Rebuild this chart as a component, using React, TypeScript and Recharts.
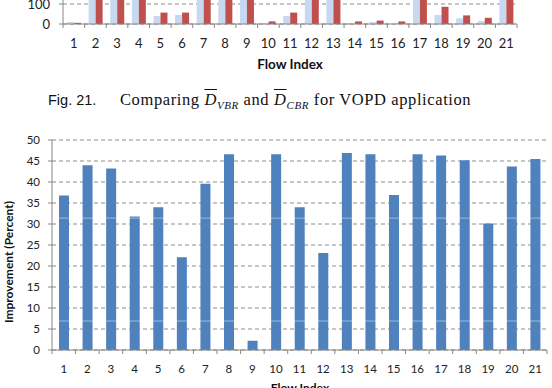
import { BarChart, Bar, XAxis, YAxis, CartesianGrid, ReferenceLine, Label } from "recharts"

const flows = ["1", "2", "3", "4", "5", "6", "7", "8", "9", "10", "11", "12", "13", "14", "15", "16", "17", "18", "19", "20", "21"]

// upper (cropped) figure: D_VBR vs D_CBR, tall bars run off the top of the page
const dVbr = [10, 240, 235, 245, 40, 45, 250, 245, 240, 5, 40, 250, 245, 5, 10, 5, 250, 45, 28, 15, 250]
const dCbr = [6, 250, 245, 255, 57, 57, 260, 255, 250, 13, 57, 260, 255, 13, 17, 13, 260, 86, 43, 31, 260]
const dTicks = [0, 100]

// lower figure: improvement in percent
const improvement = [36.8, 44, 43.2, 31.8, 34, 22.1, 39.6, 46.6, 2.2, 46.6, 34, 23.1, 46.9, 46.6, 36.9, 46.6, 46.3, 45.2, 30.1, 43.7, 45.5]
const improvementTicks = [0, 5, 10, 15, 20, 25, 30, 35, 40, 45, 50]
// faint horizontal scan lines visible across the bars in the scan
const scanLines = [31.4, 6.9]

const FONT = "Lato, 'Liberation Sans', sans-serif"
const AXIS = "#868686"
const GRID = "#8c8c8c"

function boundaryTick(band: number, count: number, drop: number, fontSize: number) {
  return (props: any) => {
    const { x, y, payload, index } = props
    return (
      <g>
        <line x1={x - band / 2} x2={x - band / 2} y1={y} y2={y + 4} stroke={AXIS} />
        {index === count - 1 && <line x1={x + band / 2} x2={x + band / 2} y1={y} y2={y + 4} stroke={AXIS} />}
        <text x={x} y={y + drop} textAnchor="middle" dominantBaseline="central" fontSize={fontSize} fontFamily={FONT} fill="#222">
          {payload.value}
        </text>
      </g>
    )
  }
}

function TopChart() {
  const data = flows.map((f, i) => ({ flow: f, vbr: dVbr[i], cbr: dCbr[i] }))
  const band = (552 - 63 - 35) / flows.length
  return (
    <BarChart width={552} height={110} data={data} margin={{ top: 0, right: 35, left: 0, bottom: 0 }} barGap={0} barSize={7}>
      <CartesianGrid vertical={false} stroke={GRID} strokeDasharray="4 3" />
      <XAxis
        dataKey="flow"
        interval={0}
        tickSize={0}
        tickMargin={0}
        height={50}
        stroke={AXIS}
        tick={boundaryTick(band, flows.length, 19, 13)}
      >
        <Label
          content={(p: any) => (
            <text x={290} y={105} textAnchor="middle" fontSize={13.5} fontWeight="bold" fontFamily={FONT} fill="#111">
              Flow Index
            </text>
          )}
        />
      </XAxis>
      <YAxis
        domain={[0, 300]}
        ticks={dTicks}
        interval={0}
        width={63}
        tickSize={4}
        tickMargin={9}
        stroke={AXIS}
        tick={{ fontSize: 13, fontFamily: FONT, fill: "#222" }}
      />
      <Bar dataKey="vbr" fill="#c6d9f1" isAnimationActive={false} />
      <Bar dataKey="cbr" fill="#c0504d" isAnimationActive={false} />
    </BarChart>
  )
}

function ImprovementChart() {
  const data = flows.map((f, i) => ({ flow: f, value: improvement[i] }))
  const band = (552 - 52 - 5) / flows.length
  return (
    <BarChart width={552} height={270} data={data} margin={{ top: 10, right: 5, left: 0, bottom: 0 }} barSize={10}>
      <CartesianGrid vertical={false} stroke={GRID} strokeDasharray="4 3" />
      <XAxis
        dataKey="flow"
        interval={0}
        tickSize={0}
        tickMargin={0}
        height={50}
        stroke={AXIS}
        tick={boundaryTick(band, flows.length, 18, 11.5)}
      >
        <Label
          content={() => (
            <text x={300} y={262} textAnchor="middle" fontSize={12} fontWeight="bold" fontFamily={FONT} fill="#111">
              Flow Index
            </text>
          )}
        />
      </XAxis>
      <YAxis
        domain={[0, 50]}
        ticks={improvementTicks}
        interval={0}
        width={52}
        tickSize={4}
        tickMargin={8}
        stroke={AXIS}
        tick={{ fontSize: 11.5, fontFamily: FONT, fill: "#222" }}
      >
        <Label
          content={() => {
            const cx = 13
            const cy = 132
            return (
              <text x={cx} y={cy} transform={`rotate(-90, ${cx}, ${cy})`} textAnchor="middle" fontSize={12} fontWeight="bold" fontFamily={FONT} fill="#111">
                Improvement (Percent)
              </text>
            )
          }}
        />
      </YAxis>
      <Bar dataKey="value" fill="#4f81bd" isAnimationActive={false} />
      {scanLines.map((v) => (
        <ReferenceLine key={v} y={v} stroke="#ffffff" strokeOpacity={0.45} strokeWidth={1} />
      ))}
    </BarChart>
  )
}

export default function App() {
  return (
    <div style={{ position: "absolute", left: 0, top: 0, width: 552, height: 388, overflow: "hidden", background: "#fff" }}>
      <div style={{ position: "absolute", left: 0, top: -36 }}>
        <TopChart />
      </div>
      <div style={{ position: "absolute", left: 48, top: 92, fontFamily: "'Liberation Sans', sans-serif", fontSize: 14.5, color: "#111", whiteSpace: "nowrap" }}>
        Fig. 21.
      </div>
      <div style={{ position: "absolute", left: 120, top: 90, fontFamily: "'Liberation Serif', serif", fontSize: 16.5, letterSpacing: 0.6, color: "#111", whiteSpace: "nowrap" }}>
        Comparing <i style={{ textDecoration: "overline" }}>D</i>
        <sub style={{ fontStyle: "italic", fontSize: 11 }}>VBR</sub> and <i style={{ textDecoration: "overline" }}>D</i>
        <sub style={{ fontStyle: "italic", fontSize: 11 }}>CBR</sub> for VOPD application
      </div>
      <div style={{ position: "absolute", left: 0, top: 130 }}>
        <ImprovementChart />
      </div>
    </div>
  )
}
